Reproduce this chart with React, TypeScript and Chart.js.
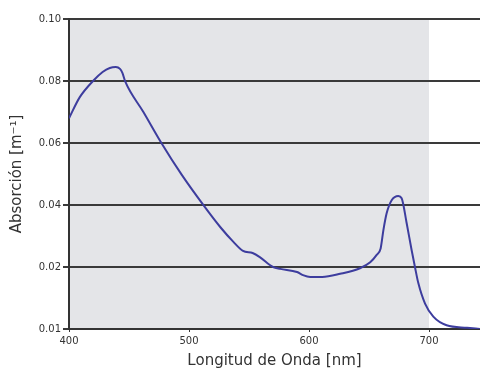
import React, { useEffect, useRef } from "react";
import { Chart, registerables } from "chart.js";

Chart.register(...registerables);

const wavelengths = [400, 409, 420, 428, 434, 439, 442.5, 444.5, 447, 462, 477, 494, 512.5, 526, 537, 545, 553, 559, 570, 576, 590, 595, 601, 611, 626, 642.5, 651, 656.4, 659.7, 662, 664.7, 669, 674.4, 677.2, 681.4, 685.5, 688.3, 691.1, 696.7, 703.6, 714.7, 731.7, 742.5];
const absorption = [0.068, 0.0748, 0.080, 0.0829, 0.0842, 0.0845, 0.0839, 0.0826, 0.0797, 0.070, 0.060, 0.0497, 0.0397, 0.0329, 0.0281, 0.0252, 0.0245, 0.0232, 0.020, 0.0197, 0.0192, 0.0187, 0.0184, 0.0184, 0.0189, 0.0198, 0.0215, 0.0239, 0.026, 0.0319, 0.0373, 0.0416, 0.0429, 0.0422, 0.0341, 0.0255, 0.020, 0.0174, 0.0141, 0.012, 0.0106, 0.0102, 0.010];
const yTickLabels = ["0.01", "0.02", "0.04", "0.06", "0.08", "0.10"];
const xTicks = [400, 500, 600, 700];
const shadedMax = 700;

// piecewise axis: 0.01..0.02 occupies one step, then every 0.02 one step
function toPos(v: number): number {
  return v < 0.02 ? (v - 0.01) / 0.01 : 1 + (v - 0.02) / 0.02;
}

export default function App() {
  const ref = useRef<HTMLCanvasElement>(null);
  useEffect(() => {
    const shade = {
      id: "shade",
      beforeDraw(chart: any) {
        const { ctx, chartArea } = chart;
        const xs = chart.scales.x;
        ctx.save();
        ctx.fillStyle = "#e4e5e8";
        const right = xs.getPixelForValue(shadedMax);
        ctx.fillRect(chartArea.left, chartArea.top, right - chartArea.left, chartArea.bottom - chartArea.top);
        ctx.restore();
      },
    };
    const chart = new Chart(ref.current!, {
      type: "line",
      data: {
        datasets: [
          {
            data: wavelengths.map((w, i) => ({ x: w, y: toPos(absorption[i]) })),
            borderColor: "#3d3d9e",
            borderWidth: 2,
            pointRadius: 0,
            cubicInterpolationMode: "monotone",
            fill: false,
          },
        ],
      },
      options: {
        animation: false,
        responsive: false,
        maintainAspectRatio: false,
        layout: { padding: { top: 19, right: 0, left: 0, bottom: 0 } },
        plugins: { legend: { display: false }, tooltip: { enabled: false } },
        scales: {
          x: {
            type: "linear",
            min: 400,
            max: 742.5,
            afterBuildTicks: (s: any) => {
              s.ticks = xTicks.map((v) => ({ value: v }));
            },
            afterFit: (s: any) => {
              s.height = 40;
            },
            border: { display: true, color: "#333", width: 2 },
            grid: { drawOnChartArea: false, drawTicks: true, tickLength: 3, color: "#333" },
            ticks: { color: "#333", font: { family: "DejaVu Sans", size: 10 }, padding: 3, maxRotation: 0 },
            title: {
              display: true,
              text: "Longitud de Onda [nm]",
              color: "#333",
              font: { family: "DejaVu Sans", size: 15, lineHeight: 1 },
              padding: { top: 0, bottom: 0 },
            },
          },
          y: {
            type: "linear",
            min: 0,
            max: 5,
            afterBuildTicks: (s: any) => {
              s.ticks = yTickLabels.map((_, i) => ({ value: i }));
            },
            afterFit: (s: any) => {
              s.width = 69;
            },
            border: { display: true, color: "#333", width: 2 },
            grid: { color: "#3a3a3a", lineWidth: 2, drawTicks: true, tickLength: 6 },
            ticks: {
              color: "#333",
              font: { family: "DejaVu Sans", size: 10 },
              padding: 2,
              callback: (v: any) => yTickLabels[Math.round(Number(v))],
            },
            title: {
              display: true,
              text: "Absorción [m⁻¹]",
              color: "#333",
              font: { family: "DejaVu Sans", size: 15, lineHeight: 1 },
              padding: { top: 10, bottom: 0 },
            },
          },
        },
      },
      plugins: [shade],
    } as any);
    return () => chart.destroy();
  }, []);
  return (
    <div style={{ position: "absolute", left: 0, top: 0, width: 480, height: 369, background: "#fff" }}>
      <canvas ref={ref} width={480} height={369} style={{ display: "block" }} />
    </div>
  );
}
